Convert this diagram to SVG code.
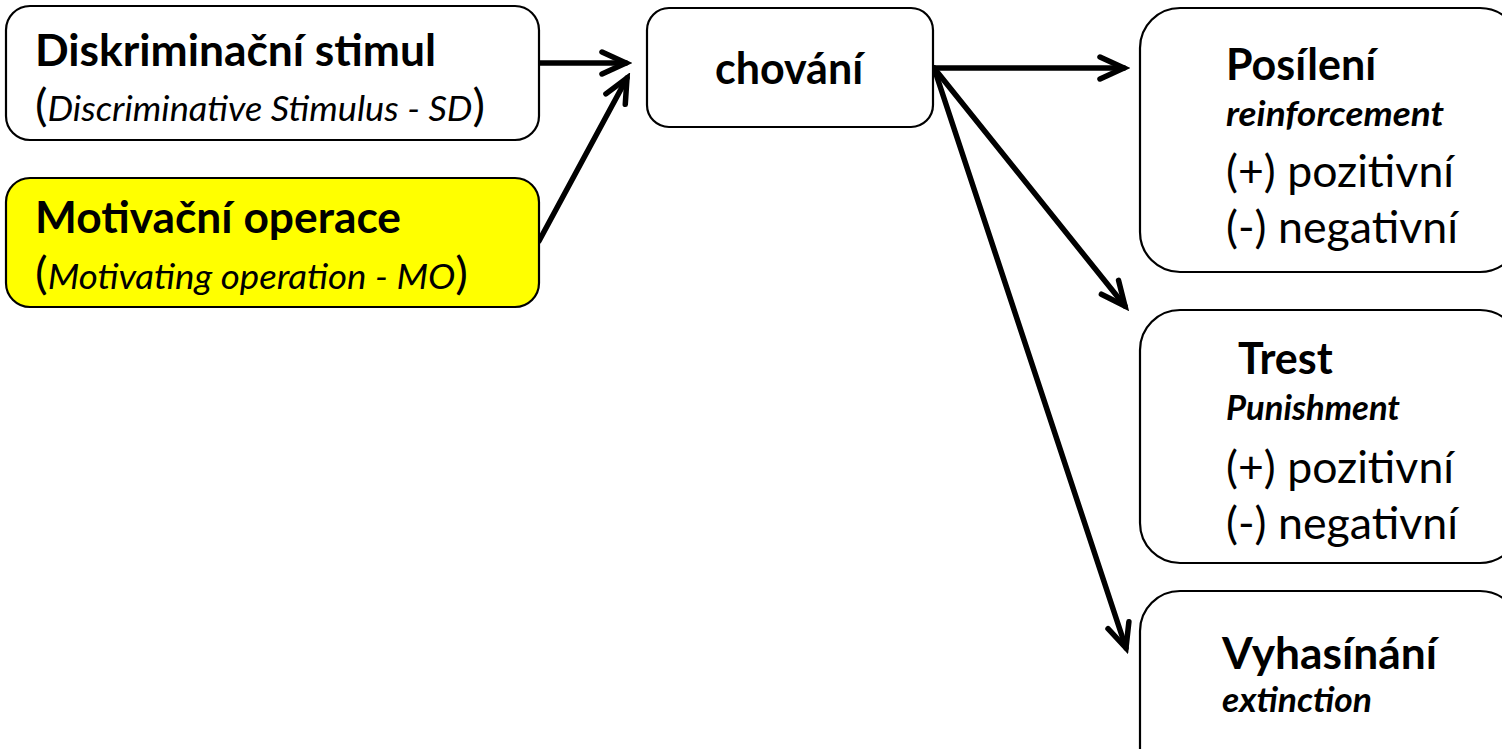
<svg xmlns="http://www.w3.org/2000/svg" width="1502" height="749" viewBox="0 0 1502 749">
<style>
.box{fill:#fff;stroke:#000;stroke-width:2.2}
.yel{fill:#ffff00;stroke:#000;stroke-width:2.2}
.t{font-family:Lato,"Open Sans","Liberation Sans",sans-serif;fill:#000}
.b{font-weight:bold}
.i{font-style:italic}
.h{font-size:43px;font-weight:bold}
.sub{font-size:35px;font-weight:bold;font-style:italic}
.reg{font-size:44px}
.conn{stroke:#000;stroke-width:5.5;fill:none;stroke-linecap:round}
</style>
<defs>
<marker id="ah" viewBox="-32 -20 38 40" refX="0" refY="0" markerWidth="38" markerHeight="40" markerUnits="userSpaceOnUse" orient="auto">
<path d="M-24,-11 L0,0 L-24,11" fill="none" stroke="#000" stroke-width="5.5" stroke-linecap="round" stroke-linejoin="miter"/>
</marker>
</defs>
<rect width="1502" height="749" fill="#fff"/>
<g id="connectors">
<line class="conn" x1="539" y1="63" x2="626" y2="63" marker-end="url(#ah)"/>
<line class="conn" x1="539" y1="241" x2="627" y2="78" marker-end="url(#ah)"/>
<line class="conn" x1="934" y1="68" x2="1124" y2="68" marker-end="url(#ah)"/>
<line class="conn" x1="934" y1="68" x2="1125" y2="306" marker-end="url(#ah)"/>
<line class="conn" x1="934" y1="68" x2="1126" y2="648" marker-end="url(#ah)"/>
</g>
<g id="node-sd">
<rect class="box" x="6" y="6" width="533" height="134" rx="24"/>
<text class="t h" x="35" y="66" textLength="401" lengthAdjust="spacingAndGlyphs">Diskriminační stimul</text>
<text class="t" x="35" y="121" font-size="44" textLength="450" lengthAdjust="spacingAndGlyphs">(<tspan class="i" font-size="34">Discriminative Stimulus - SD</tspan>)</text>
</g>
<g id="node-mo">
<rect class="yel" x="6" y="178" width="533" height="129" rx="24"/>
<text class="t h" x="35" y="233" textLength="366" lengthAdjust="spacingAndGlyphs">Motivační operace</text>
<text class="t" x="35" y="289" font-size="44" textLength="433" lengthAdjust="spacingAndGlyphs">(<tspan class="i" font-size="34">Motivating operation - MO</tspan>)</text>
</g>
<g id="node-chovani">
<rect class="box" x="647" y="8" width="286" height="119" rx="22"/>
<text class="t h" x="789" y="84" text-anchor="middle">chování</text>
</g>
<g id="node-posileni">
<rect class="box" x="1140" y="8" width="380" height="264" rx="40"/>
<text class="t h" x="1226" y="80">Posílení</text>
<text class="t sub" x="1226" y="126" textLength="218" lengthAdjust="spacingAndGlyphs">reinforcement</text>
<text class="t reg" x="1226" y="187" textLength="228" lengthAdjust="spacingAndGlyphs">(+) pozitivní</text>
<text class="t reg" x="1226" y="243" textLength="232" lengthAdjust="spacingAndGlyphs">(-) negativní</text>
</g>
<g id="node-trest">
<rect class="box" x="1140" y="310" width="380" height="253" rx="40"/>
<text class="t h" x="1238" y="374">Trest</text>
<text class="t sub" x="1226" y="420" textLength="174" lengthAdjust="spacingAndGlyphs">Punishment</text>
<text class="t reg" x="1226" y="483" textLength="228" lengthAdjust="spacingAndGlyphs">(+) pozitivní</text>
<text class="t reg" x="1226" y="539" textLength="232" lengthAdjust="spacingAndGlyphs">(-) negativní</text>
</g>
<g id="node-vyhasinani">
<rect class="box" x="1140" y="591" width="380" height="200" rx="40"/>
<text class="t h" x="1222" y="669" textLength="215" lengthAdjust="spacingAndGlyphs">Vyhasínání</text>
<text class="t sub" x="1222" y="712" textLength="150" lengthAdjust="spacingAndGlyphs">extinction</text>
</g>
</svg>
